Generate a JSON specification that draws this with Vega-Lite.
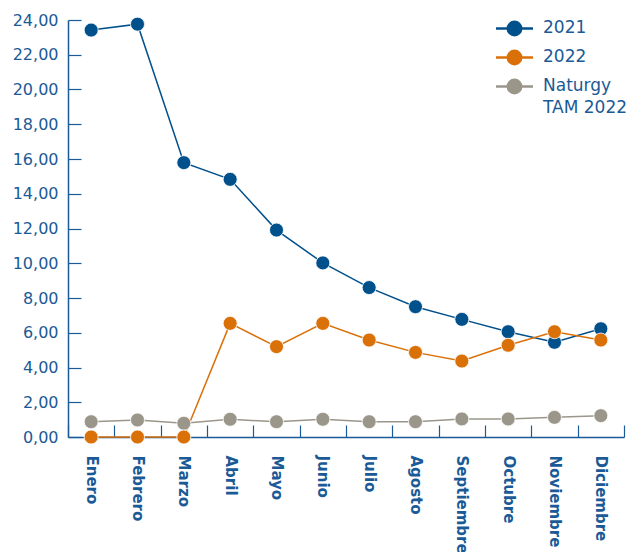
{
  "$schema": "https://vega.github.io/schema/vega-lite/v6.json",
  "autosize": {"type": "none"},
  "width": 556,
  "height": 417,
  "padding": {"left": 68, "top": 20, "right": 7, "bottom": 115},
  "background": "white",
  "config": {
    "view": {"stroke": null},
    "font": "DejaVu Sans",
    "axis": {"grid": false, "domainColor": "#1a5a96", "tickColor": "#1a5a96", "labelColor": "#1a5a96", "labelFont": "DejaVu Sans", "labelFontSize": 16, "labelFontWeight": "normal", "domainWidth": 1.5, "tickWidth": 1.2, "title": null}
  },
  "data": {
    "values": [
      {"mes": "Enero", "serie": "Naturgy TAM 2022", "valor": 0.88},
      {"mes": "Febrero", "serie": "Naturgy TAM 2022", "valor": 0.98},
      {"mes": "Marzo", "serie": "Naturgy TAM 2022", "valor": 0.79},
      {"mes": "Abril", "serie": "Naturgy TAM 2022", "valor": 1.02},
      {"mes": "Mayo", "serie": "Naturgy TAM 2022", "valor": 0.88},
      {"mes": "Junio", "serie": "Naturgy TAM 2022", "valor": 1.02},
      {"mes": "Julio", "serie": "Naturgy TAM 2022", "valor": 0.88},
      {"mes": "Agosto", "serie": "Naturgy TAM 2022", "valor": 0.88},
      {"mes": "Septiembre", "serie": "Naturgy TAM 2022", "valor": 1.04},
      {"mes": "Octubre", "serie": "Naturgy TAM 2022", "valor": 1.04},
      {"mes": "Noviembre", "serie": "Naturgy TAM 2022", "valor": 1.13},
      {"mes": "Diciembre", "serie": "Naturgy TAM 2022", "valor": 1.23},
      {"mes": "Enero", "serie": "2021", "valor": 23.42},
      {"mes": "Febrero", "serie": "2021", "valor": 23.76},
      {"mes": "Marzo", "serie": "2021", "valor": 15.79},
      {"mes": "Abril", "serie": "2021", "valor": 14.83},
      {"mes": "Mayo", "serie": "2021", "valor": 11.91},
      {"mes": "Junio", "serie": "2021", "valor": 10.02},
      {"mes": "Julio", "serie": "2021", "valor": 8.6},
      {"mes": "Agosto", "serie": "2021", "valor": 7.5},
      {"mes": "Septiembre", "serie": "2021", "valor": 6.77},
      {"mes": "Octubre", "serie": "2021", "valor": 6.06},
      {"mes": "Noviembre", "serie": "2021", "valor": 5.45},
      {"mes": "Diciembre", "serie": "2021", "valor": 6.23},
      {"mes": "Enero", "serie": "2022", "valor": 0},
      {"mes": "Febrero", "serie": "2022", "valor": 0},
      {"mes": "Marzo", "serie": "2022", "valor": 0},
      {"mes": "Abril", "serie": "2022", "valor": 6.54},
      {"mes": "Mayo", "serie": "2022", "valor": 5.2},
      {"mes": "Junio", "serie": "2022", "valor": 6.54},
      {"mes": "Julio", "serie": "2022", "valor": 5.58},
      {"mes": "Agosto", "serie": "2022", "valor": 4.87},
      {"mes": "Septiembre", "serie": "2022", "valor": 4.37},
      {"mes": "Octubre", "serie": "2022", "valor": 5.28},
      {"mes": "Noviembre", "serie": "2022", "valor": 6.06},
      {"mes": "Diciembre", "serie": "2022", "valor": 5.58}
    ]
  },
  "encoding": {
    "x": {
      "field": "mes", "type": "nominal",
      "sort": ["Enero", "Febrero", "Marzo", "Abril", "Mayo", "Junio", "Julio", "Agosto", "Septiembre", "Octubre", "Noviembre", "Diciembre"],
      "scale": {"paddingInner": 0, "paddingOuter": 0},
      "axis": {"labelAngle": 90, "labelAlign": "left", "labelBaseline": "middle", "tickBand": "extent", "tickSize": -12, "labelPadding": 30, "labelFontSize": 15, "labelFontWeight": 600}
    },
    "y": {
      "field": "valor", "type": "quantitative",
      "scale": {"domain": [0, 24], "nice": false, "zero": true},
      "axis": {"values": [0, 2, 4, 6, 8, 10, 12, 14, 16, 18, 20, 22, 24], "labelExpr": "replace(format(datum.value, '.2f'), '.', ',')", "tickSize": -13, "labelPadding": 23}
    },
    "color": {
      "field": "serie", "type": "nominal",
      "scale": {"domain": ["2021", "2022", "Naturgy TAM 2022"], "range": ["#00508c", "#da7008", "#9b968a"]},
      "legend": {
        "title": null, "orient": "none", "legendX": 435, "legendY": -3, "padding": 0,
        "symbolType": "M-1.85,0L1.85,0M-0.67,0A0.67,0.67 0 1,0 0.67,0A0.67,0.67 0 1,0 -0.67,0Z",
        "symbolSize": 400, "symbolStrokeWidth": 2.5,
        "labelFontSize": 17, "labelColor": "#1a5a96", "labelFont": "DejaVu Sans",
        "labelBaseline": "top",
        "labelExpr": "datum.label == 'Naturgy TAM 2022' ? ['Naturgy', 'TAM 2022'] : datum.label",
        "rowPadding": 4, "labelOffset": 17, "labelLimit": 200,
        "encode": {
          "symbols": {"update": {"fill": {"scale": "color", "field": "value"}, "stroke": {"scale": "color", "field": "value"}, "fillOpacity": {"value": 1}}},
          "labels": {"update": {"dy": {"value": -9}, "lineHeight": {"value": 22}}}
        }
      }
    }
  },
  "layer": [
    {"mark": {"type": "line", "strokeWidth": 1.5}},
    {"mark": {"type": "point", "filled": true, "size": 196, "opacity": 1, "stroke": "white", "strokeWidth": 0.8}}
  ]
}
